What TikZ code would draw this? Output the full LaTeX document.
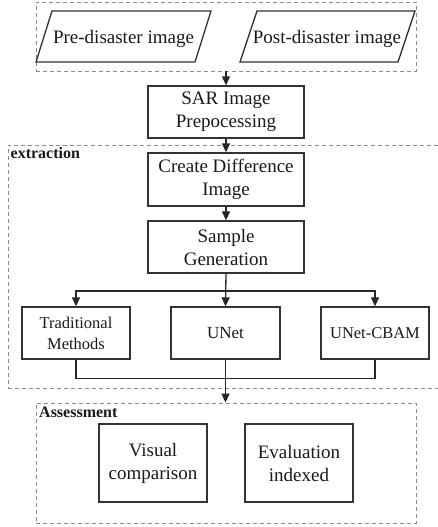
\documentclass[tikz,border=0pt]{standalone}
\usepackage{fontspec}
\setmainfont{Liberation Serif}
\usetikzlibrary{arrows.meta}
\begin{document}
\begin{tikzpicture}[x=1pt,y=-1pt,
 box/.style={draw=black!80,line width=1.3pt,minimum width=156pt,minimum height=52pt,align=center,inner sep=0pt,font=\fontsize{19}{23}\selectfont,text=black!90},
 sbox/.style={box,minimum width=108pt,font=\fontsize{16.5}{21}\selectfont},
 group/.style={draw=black!45,dash pattern=on 4pt off 3pt,line width=0.8pt,inner sep=0pt},
 arr/.style={line width=1.3pt,draw=black!85,-{Triangle[length=9pt,width=8pt]}},
 ln/.style={line width=1.3pt,draw=black!85},
 para/.style={draw=black!80,line width=1.3pt,line join=miter},
 lbl/.style={font=\bfseries\fontsize{16}{18}\selectfont,anchor=base west,inner sep=0pt,text=black!90},
 ptxt/.style={font=\fontsize{19}{23}\selectfont,anchor=base,inner sep=0pt,text=black!90}]
\useasboundingbox (0,0) rectangle (438,527);

% input group
\node[group,minimum width=380pt,minimum height=69pt] (inputs) at (226,36.5) {};
\draw[para] (36,62) -- (52,11) -- (211,11) -- (195,62) -- cycle;
\node[ptxt] (pre) at (123.5,44) {Pre-disaster image};
\draw[para] (240,62) -- (257,11) -- (415,11) -- (398,62) -- cycle;
\node[ptxt] (post) at (327,44) {Post-disaster image};

% extraction group
\node[group,minimum width=433pt,minimum height=243pt] (extr) at (224.5,266.5) {};
\node[lbl] (extrlbl) at (10.5,158) {extraction};

% assessment group
\node[group,minimum width=380pt,minimum height=120pt] (assess) at (226,463) {};
\node[lbl] (asslbl) at (39,417) {Assessment};

% boxes
\node[box] (sar) at (226,112) {SAR Image\\Prepocessing};
\node[box,minimum height=53pt] (diff) at (226,179.5) {Create Difference\\Image};
\node[box] (sample) at (226,247) {Sample\\Generation};
\node[sbox] (trad) at (76,333) {Traditional\\Methods};
\node[sbox,minimum width=109pt,font=\fontsize{17}{21}\selectfont] (unet) at (225.5,333) {UNet};
\node[sbox] (cbam) at (375,333) {UNet-CBAM};
\node[box,minimum width=108pt,minimum height=78pt] (visual) at (153,463) {Visual\\comparison};
\node[box,minimum width=108pt,minimum height=78pt] (eval) at (299,463) {Evaluation\\indexed};

% connectors
\draw[arr] (inputs.south) -- (sar.north);
\draw[arr] (sar.south) -- (diff.north);
\draw[arr] (diff.south) -- (sample.north);
\draw[arr] (sample.south) -- (unet.north);
\coordinate (split) at (226,291);
\draw[arr] (split) -| (trad.north);
\draw[arr] (split) -| (cbam.north);
\draw[ln] (trad.south) -- ++(0,19) -| (cbam.south);
\draw[arr] (unet.south) -- (unet.south |- assess.north);
\end{tikzpicture}
\end{document}
